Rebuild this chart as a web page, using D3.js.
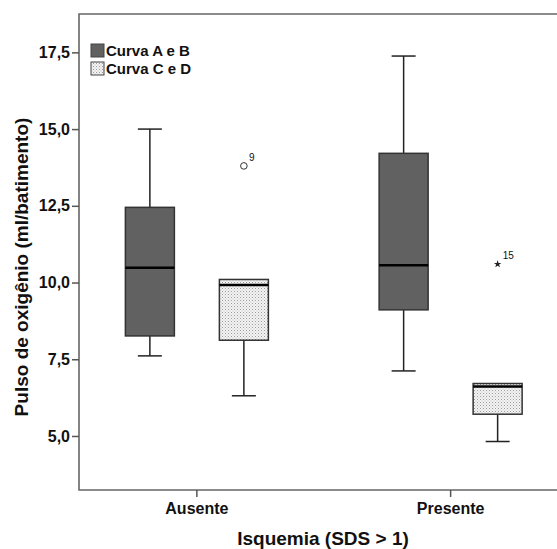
<!DOCTYPE html>
<html><head><meta charset="utf-8">
<script src="https://cdn.jsdelivr.net/npm/d3@7"></script>
<style>body{margin:0;background:#fff}text{font-family:"Liberation Sans",Arial,sans-serif}</style>
</head><body><svg id="c" width="557" height="549"></svg>
<script>
const categories = ["Ausente", "Presente"];
const series = ["Curva A e B", "Curva C e D"];
// box statistics per series, one value per category
const abLow = [7.61, 7.12], abQ1 = [8.26, 9.11], abMed = [10.48, 10.56], abQ3 = [12.45, 14.21], abHigh = [15.0, 17.38];
const cdLow = [6.31, 4.82], cdQ1 = [8.12, 5.71], cdMed = [9.92, 6.61], cdQ3 = [10.1, 6.71], cdHigh = [10.1, 6.71];
const outlierCat = ["Ausente", "Presente"];
const outlierSeries = ["Curva C e D", "Curva C e D"];
const outlierVal = [13.8, 10.6];
const outlierLabel = ["9", "15"];
const outlierShape = ["circle", "star"];
const yTicks = [5.0, 7.5, 10.0, 12.5, 15.0, 17.5];

const svg = d3.select("#c");
const L = 79, T = 14, B = 490, R = 560;
const y = d3.scaleLinear().domain([3.24, 18.75]).range([B, T]);
const x = d3.scaleBand().domain(categories).range([70, 577.5]);
const xs = d3.scalePoint().domain(series).range([-47, 47]);
const bw = 49, capW = 24;

const defs = svg.append("defs");
const pat = defs.append("pattern").attr("id", "dots").attr("patternUnits", "userSpaceOnUse")
  .attr("width", 3).attr("height", 3);
pat.append("rect").attr("width", 3).attr("height", 3).attr("fill", "#f4f4f4");
pat.append("rect").attr("x", 0).attr("y", 0).attr("width", 1).attr("height", 1).attr("fill", "#9a9a9a");
pat.append("rect").attr("x", 1.5).attr("y", 1.5).attr("width", 1).attr("height", 1).attr("fill", "#b8b8b8");

const fills = {"Curva A e B": "#616161", "Curva C e D": "url(#dots)"};

// frame
svg.append("path").attr("d", `M${R},${T}H${L}V${B}H${R}`).attr("fill", "none")
  .attr("stroke", "#666").attr("stroke-width", 1.6);

// y axis
const ya = svg.append("g").attr("transform", `translate(${L},0)`)
  .call(d3.axisLeft(y).tickValues(yTicks).tickSize(7).tickPadding(2)
    .tickFormat(d => d3.format(".1f")(d).replace(".", ",")));
ya.select(".domain").remove();
ya.selectAll("line").attr("stroke", "#555").attr("stroke-width", 1.5);
ya.selectAll("text").attr("font-size", 16).attr("font-weight", "bold").attr("fill", "#111")
  .attr("font-family", "'Liberation Sans',Arial,sans-serif");

// x axis
const xa = svg.append("g").attr("transform", `translate(0,${B})`)
  .call(d3.axisBottom(x).tickSize(7).tickPadding(6));
xa.select(".domain").remove();
xa.selectAll("line").attr("stroke", "#555").attr("stroke-width", 1.5);
xa.selectAll("text").attr("font-size", 16).attr("font-weight", "bold").attr("fill", "#111")
  .attr("font-family", "'Liberation Sans',Arial,sans-serif");

// boxes
const stats = {
  "Curva A e B": [abLow, abQ1, abMed, abQ3, abHigh],
  "Curva C e D": [cdLow, cdQ1, cdMed, cdQ3, cdHigh]
};
const boxes = [];
series.forEach(s => categories.forEach((c, i) => {
  const st = stats[s];
  boxes.push({s, c, low: st[0][i], q1: st[1][i], med: st[2][i], q3: st[3][i], high: st[4][i]});
}));
const g = svg.append("g");
boxes.forEach(b => {
  const cx = x(b.c) + x.bandwidth() / 2 + xs(b.s);
  const stroke = "#222";
  if (b.high > b.q3) {
    g.append("line").attr("x1", cx).attr("x2", cx).attr("y1", y(b.q3)).attr("y2", y(b.high)).attr("stroke", stroke).attr("stroke-width", 1.5);
    g.append("line").attr("x1", cx - capW / 2).attr("x2", cx + capW / 2).attr("y1", y(b.high)).attr("y2", y(b.high)).attr("stroke", stroke).attr("stroke-width", 1.5);
  }
  g.append("line").attr("x1", cx).attr("x2", cx).attr("y1", y(b.q1)).attr("y2", y(b.low)).attr("stroke", stroke).attr("stroke-width", 1.5);
  g.append("line").attr("x1", cx - capW / 2).attr("x2", cx + capW / 2).attr("y1", y(b.low)).attr("y2", y(b.low)).attr("stroke", stroke).attr("stroke-width", 1.5);
  g.append("rect").attr("x", cx - bw / 2).attr("y", y(b.q3)).attr("width", bw).attr("height", y(b.q1) - y(b.q3))
    .attr("fill", fills[b.s]).attr("stroke", "#333").attr("stroke-width", 1.5);
  g.append("line").attr("x1", cx - bw / 2).attr("x2", cx + bw / 2).attr("y1", y(b.med)).attr("y2", y(b.med))
    .attr("stroke", "#000").attr("stroke-width", 2.5);
});

// outliers
outlierVal.forEach((v, i) => {
  const cx = x(outlierCat[i]) + x.bandwidth() / 2 + xs(outlierSeries[i]);
  const cy = y(v);
  if (outlierShape[i] === "circle") {
    svg.append("circle").attr("cx", cx).attr("cy", cy).attr("r", 3.3).attr("fill", "none").attr("stroke", "#333").attr("stroke-width", 1);
  } else {
    svg.append("path").attr("d", d3.symbol(d3.symbolStar, 18)()).attr("transform", `translate(${cx},${cy})`).attr("fill", "#222");
  }
  svg.append("text").attr("x", cx + 5).attr("y", cy - 5).attr("font-size", 10).attr("fill", "#111").text(outlierLabel[i]);
});

// legend
const lg = svg.append("g");
series.forEach((s, i) => {
  const yy = 44 + i * 18;
  lg.append("rect").attr("x", 91).attr("y", yy).attr("width", 13).attr("height", 13)
    .attr("fill", fills[s]).attr("stroke", "#444").attr("stroke-width", 1);
  lg.append("text").attr("x", 106).attr("y", yy + 11.5).attr("font-size", 15).attr("font-weight", "bold")
    .attr("fill", "#111").text(s);
});

// titles
svg.append("text").attr("x", 323).attr("y", 545).attr("text-anchor", "middle").attr("font-size", 19)
  .attr("font-weight", "bold").attr("fill", "#111").text("Isquemia (SDS > 1)");
svg.append("text").attr("transform", "translate(28,267) rotate(-90)").attr("text-anchor", "middle").attr("font-size", 19)
  .attr("font-weight", "bold").attr("fill", "#111").text("Pulso de oxigênio (ml/batimento)");
</script></body></html>
